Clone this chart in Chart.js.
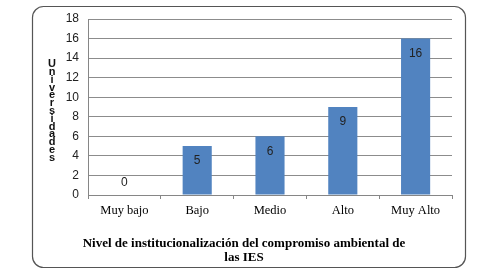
<!DOCTYPE html>
<html><head><meta charset="utf-8">
<script src="https://cdn.jsdelivr.net/npm/chart.js@4/dist/chart.umd.min.js"></script>
<style>html,body{margin:0;padding:0;background:#fff;}canvas{display:block;}</style>
</head><body>
<canvas id="c" width="484" height="275"></canvas>
<script>
const categories = ['Muy bajo', 'Bajo', 'Medio', 'Alto', 'Muy Alto'];
const values = [0, 5, 6, 9, 16];
const yTicks = [0, 2, 4, 6, 8, 10, 12, 14, 16, 18];
const yTitle = 'Universidades';
const xTitle = ['Nivel de institucionalización del compromiso ambiental de', 'las IES'];

const decor = {
  id: 'decor',
  beforeDraw(chart) {
    const ctx = chart.ctx;
    ctx.save();
    ctx.fillStyle = '#fff';
    ctx.fillRect(0, 0, chart.width, chart.height);
    ctx.strokeStyle = '#555';
    ctx.lineWidth = 1.2;
    ctx.beginPath();
    ctx.roundRect(32.5, 6.5, 433, 261, 11);
    ctx.stroke();
    ctx.restore();
  },
  afterDraw(chart) {
    const ctx = chart.ctx;
    const area = chart.chartArea;
    ctx.save();
    ctx.fillStyle = '#111';
    ctx.font = 'bold 11px "Liberation Sans", Arial, sans-serif';
    ctx.textAlign = 'center';
    ctx.textBaseline = 'middle';
    const letters = yTitle.split('');
    const step = 7.8;
    const mid = (area.top + area.bottom) / 2 + 4;
    const startY = mid - step * (letters.length - 1) / 2;
    letters.forEach((ch, i) => ctx.fillText(ch, 52, startY + i * step));
    ctx.font = 'bold 13px "Liberation Serif", "DejaVu Serif", serif';
    ctx.fillStyle = '#000';
    const cx = 244;
    xTitle.forEach((line, i) => ctx.fillText(line, cx, 244 + i * 14));
    const meta = chart.getDatasetMeta(0);
    const ys = chart.scales.y;
    ctx.font = '12px "Liberation Sans", Arial, sans-serif';
    ctx.fillStyle = '#222';
    meta.data.forEach((bar, i) => {
      const v = values[i];
      let y;
      if (v === 0) y = ys.getPixelForValue(0) - 12;
      else y = bar.y + 15;
      ctx.fillText(String(v), bar.x, y);
    });
    ctx.restore();
  }
};

new Chart(document.getElementById('c'), {
  type: 'bar',
  data: {
    labels: categories,
    datasets: [{
      data: values,
      backgroundColor: '#5183c0',
      borderWidth: 0,
      categoryPercentage: 1,
      barPercentage: 0.4
    }]
  },
  options: {
    responsive: false,
    animation: false,
    devicePixelRatio: 1,
    layout: { padding: { left: 32, right: 32, top: 19, bottom: 0 } },
    plugins: { legend: { display: false }, tooltip: { enabled: false } },
    scales: {
      x: {
        offset: true,
        grid: { display: true, drawOnChartArea: false, drawTicks: true, tickLength: 4, color: '#868686', offset: true },
        border: { display: true, color: '#868686' },
        ticks: { color: '#000', padding: 4, font: { family: '"Liberation Serif", serif', size: 12.5 }, maxRotation: 0 },
        afterFit(scale) { scale.height = 80; }
      },
      y: {
        min: 0, max: 18,
        afterBuildTicks(scale) { scale.ticks = yTicks.map(v => ({ value: v })); },
        grid: { color: '#8c8c8c', drawTicks: false },
        border: { display: true, color: '#868686' },
        ticks: { color: '#222', padding: 9, font: { family: '"Liberation Sans", Arial, sans-serif', size: 12 } },
        afterFit(scale) { scale.width = 56; }
      }
    }
  },
  plugins: [decor]
});
</script>
</body></html>
